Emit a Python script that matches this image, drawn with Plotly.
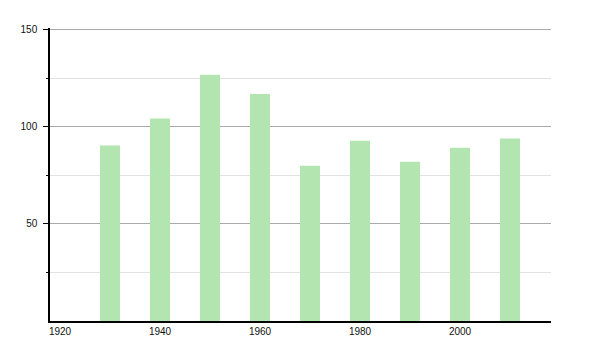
import plotly.graph_objects as go

years = [1930, 1940, 1950, 1960, 1970, 1980, 1990, 2000, 2010]
values = [90.4, 104.3, 126.9, 117.0, 80.0, 92.9, 82.1, 89.3, 94.0]
y_tick_vals = [50, 100, 150]
x_tick_vals = [1920, 1940, 1960, 1980, 2000]

fig = go.Figure()
fig.add_trace(go.Bar(
    x=years, y=values, width=4,
    marker=dict(color="rgb(178,229,176)", line=dict(width=0)),
))

fig.update_layout(
    width=600, height=350,
    margin=dict(l=50, r=49, t=28, b=29),
    paper_bgcolor="white", plot_bgcolor="white",
    showlegend=False,
    font=dict(family="Liberation Sans, Arial, sans-serif", size=10, color="#111"),
)
fig.update_xaxes(
    range=[1918, 2018.2], tickvals=x_tick_vals, ticks="", showgrid=False,
    showline=True, linecolor="black", linewidth=1.5, zeroline=False,
    ticklabelstandoff=0,
)
fig.update_yaxes(
    range=[0, 151], tickvals=y_tick_vals, ticks="outside", ticklen=5,
    tickcolor="black", tickwidth=1,
    showgrid=True, gridcolor="#aaaaaa", gridwidth=1,
    showline=True, linecolor="black", linewidth=1.5, zeroline=False,
    minor=dict(tickvals=[25, 75, 125], ticks="outside", ticklen=2,
               tickcolor="black", showgrid=True, gridcolor="#e2e2e2", gridwidth=1),
    ticklabelstandoff=4,
)

fig.write_html("out.html")
